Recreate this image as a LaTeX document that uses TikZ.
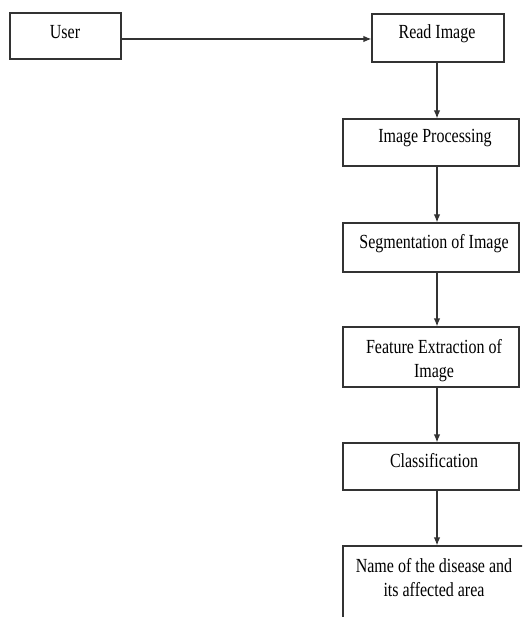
\documentclass[tikz,border=0pt]{standalone}
\usepackage{fontspec}
\setmainfont{Liberation Serif}[FakeStretch=0.8]
\usetikzlibrary{arrows.meta}
\begin{document}
\begin{tikzpicture}[x=1pt,y=1pt,
  box/.style={draw=black!80, line width=1.2pt, rectangle, inner sep=0pt},
  lbl/.style={font=\fontsize{20}{24}\selectfont, align=center, inner sep=0pt, text=black, anchor=base},
  arr/.style={draw=black!80, line width=1.2pt, -{Latex[length=8pt,width=6.5pt]}}]
\useasboundingbox (0,0) rectangle (522,-617);
\clip (0,0) rectangle (522,-617);
% boxes
\node[box, minimum width=111pt, minimum height=46pt] (user) at (65.5,-36) {};
\node[box, minimum width=132pt, minimum height=48pt] (read) at (438,-38) {};
\node[box, minimum width=176pt, minimum height=47pt] (ip) at (431,-142.5) {};
\node[box, minimum width=176pt, minimum height=49pt] (seg) at (431,-247.5) {};
\node[box, minimum width=176pt, minimum height=60pt] (feat) at (431,-357) {};
\node[box, minimum width=176pt, minimum height=47pt] (cls) at (431,-466.5) {};
\node[box, minimum width=230pt, minimum height=120pt] (name) at (458,-606) {};
% texts
\node[lbl] (tuser) at (65,-39) {User};
\node[lbl] (tread) at (437,-39) {Read Image};
\node[lbl] (tip) at (435,-143) {Image Processing};
\node[lbl] (tseg) at (434,-248) {Segmentation of Image};
\node[lbl] (tfeat) at (434,-377) {Feature Extraction of\\Image};
\node[lbl] (tcls) at (434,-467) {Classification};
\node[lbl] (tname) at (434,-596) {Name of the disease and\\its affected area};
% connectors
\draw[arr] ([yshift=-3pt]user.east) -- ([yshift=-3pt]user.east -| read.west);
\draw[arr] ([xshift=-1pt]read.south) -- ([xshift=-1pt]read.south |- ip.north);
\draw[arr] ([xshift=6pt]ip.south) -- ([xshift=6pt]ip.south |- seg.north);
\draw[arr] ([xshift=6pt]seg.south) -- ([xshift=6pt]seg.south |- feat.north);
\draw[arr] ([xshift=6pt]feat.south) -- ([xshift=6pt]feat.south |- cls.north);
\draw[arr] ([xshift=6pt]cls.south) -- ([xshift=6pt]cls.south |- name.north);
\end{tikzpicture}
\end{document}
